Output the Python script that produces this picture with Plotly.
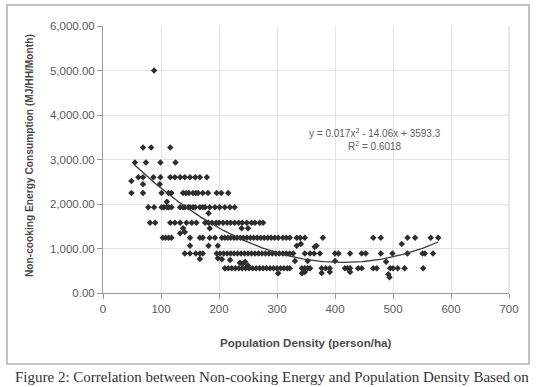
import numpy as np
import plotly.graph_objects as go

# ---- data (x: person/ha, y: MJ/HH/Month) ----
row_3270_x = [69, 83, 116]
row_2930_x = [55, 74, 99, 125]
row_2600_x = [61, 69, 87, 99, 116, 124, 133, 141, 150, 159, 167, 179]
row_2250_x = [49, 69, 101, 113, 118, 138, 143, 148, 155, 160, 164, 172, 181, 196, 204, 216]
row_1925_x = [78, 88, 101, 105, 110, 113, 118, 133, 138, 141, 147, 150, 155, 159, 167, 172,
              176, 184, 193, 201, 210, 219, 227]
row_1580_x = [81, 90, 116, 124, 133, 144, 153, 161, 176, 182, 188, 195, 200, 207, 214, 220,
              227, 234, 240, 248, 256, 262, 270, 276]
row_1240_x = [103, 108, 113, 118, 150, 167, 172, 184, 193, 205, 210, 215, 220, 226, 231, 237,
              242, 248, 254, 260, 266, 272, 278, 284, 290, 296, 302, 310, 316, 322, 334, 340,
              348, 379, 466, 479, 525, 538, 565, 578]
row_890_x = [141, 150, 160, 167, 172, 196, 202, 208, 214, 220, 226, 232, 238, 244, 250, 256,
             262, 268, 274, 280, 286, 292, 298, 304, 310, 316, 322, 328, 348, 357, 364, 374,
             400, 406, 426, 446, 453, 479, 499, 525, 551, 555, 569]
row_555_x = [210, 216, 222, 228, 234, 240, 246, 252, 258, 264, 270, 276, 282, 288, 294, 300,
             306, 312, 318, 322, 343, 348, 353, 357, 377, 384, 391, 417, 421, 426, 440, 446,
             466, 472, 495, 500, 508, 520, 552]
row_values = [3270, 2930, 2600, 2250, 1925, 1580, 1240, 890, 555]

extra_x = [88, 49, 69, 98, 110, 182, 138, 184, 239, 250, 141, 133,
           150, 182, 198, 334, 368, 341, 365, 515,
           167, 198, 205, 219, 331, 353, 400, 488, 240, 245, 250, 236,
           302, 343, 348, 377, 391, 426, 492, 494]
extra_y = [5000, 2517, 2443, 2443, 2052, 1791, 1453, 1453, 1453, 1453, 1370, 1340,
           1063, 1063, 1063, 1063, 1063, 1101, 1041, 1101,
           764, 780, 760, 740, 720, 720, 720, 703, 650, 700, 620, 680,
           442, 442, 470, 450, 470, 470, 420, 352]

# trendline coefficients shown on chart: y = 0.017x^2 - 14.06x + 3593.3
trend_coef = [0.017, -14.06, 3593.3]
trend_x_range = [55, 578]

x_ticks = [0, 100, 200, 300, 400, 500, 600, 700]
y_ticks = [0, 1000, 2000, 3000, 4000, 5000, 6000]

rows = [row_3270_x, row_2930_x, row_2600_x, row_2250_x, row_1925_x,
        row_1580_x, row_1240_x, row_890_x, row_555_x]
xs, ys = [], []
for rx, rv in zip(rows, row_values):
    xs += rx
    ys += [rv] * len(rx)
xs += extra_x
ys += extra_y

tx = np.linspace(trend_x_range[0], trend_x_range[1], 200)
ty = np.polyval(trend_coef, tx)

fig = go.Figure()
fig.add_trace(go.Scatter(x=xs, y=ys, mode="markers",
                         marker=dict(symbol="diamond", size=5, color="#2e2e2e"),
                         showlegend=False))
fig.add_trace(go.Scatter(x=tx, y=ty, mode="lines",
                         line=dict(color="#3a3a3a", width=1.3), showlegend=False))

L, R, T, B = 103, 509, 26, 293
W, H = 540, 387
def px(x):
    return (x - L) / (R - L)
def py(y):
    return (B - y) / (B - T)

fig.update_layout(
    width=W, height=H,
    margin=dict(l=L, r=W - R, t=T, b=H - B),
    paper_bgcolor="white", plot_bgcolor="white",
    font=dict(family="Arial, Liberation Sans, sans-serif", color="#555555", size=11),
    xaxis=dict(range=[0, 700], tickvals=x_ticks, ticks="outside", ticklen=5,
               tickcolor="#999999", showgrid=True, gridcolor="#e3e3e3", gridwidth=1,
               showline=True, linecolor="#9a9a9a", linewidth=1, zeroline=False,
               tickfont=dict(size=11.5, color="#5a5a5a")),
    yaxis=dict(range=[0, 6000], tickvals=y_ticks, tickformat=",.2f", ticks="outside",
               ticklen=5, tickcolor="#999999", showgrid=True, gridcolor="#e3e3e3",
               showline=True, linecolor="#9a9a9a", linewidth=1, zeroline=False,
               tickfont=dict(size=11.5, color="#5a5a5a")),
    shapes=[dict(type="rect", xref="paper", yref="paper",
                 x0=px(7), x1=px(529), y0=py(364), y1=py(5),
                 line=dict(color="#b0b0b0", width=1.5)),
            dict(type="line", xref="paper", yref="paper",
                 x0=1, x1=1, y0=0, y1=1, line=dict(color="#d0d0d0", width=1))],
    annotations=[
        dict(text="y = 0.017x<sup>2</sup> - 14.06x + 3593.3<br>R<sup>2</sup> = 0.6018",
             xref="paper", yref="paper", x=px(375), y=py(139), showarrow=False,
             xanchor="center", yanchor="middle",
             font=dict(size=10, color="#606060"), align="center"),
        dict(text="<b>Non-cooking Energy Consumption (MJ/HH/Month)</b>",
             xref="paper", yref="paper", x=px(29), y=py(156), textangle=-90,
             xanchor="center", yanchor="middle",
             showarrow=False, font=dict(size=10.2, color="#4a4a4a")),
        dict(text="<b>Population Density (person/ha)</b>",
             xref="paper", yref="paper", x=px(305), y=py(342), showarrow=False,
             xanchor="center", yanchor="middle",
             font=dict(size=11.6, color="#4a4a4a")),
        dict(text="Figure 2: Correlation between Non-cooking Energy and Population Density Based on",
             xref="paper", yref="paper", x=px(272), y=py(377), showarrow=False,
             xanchor="center", yanchor="middle",
             font=dict(family="Liberation Serif, Times New Roman, serif", size=15,
                       color="#333333")),
    ],
)

fig.write_html("out.html")
